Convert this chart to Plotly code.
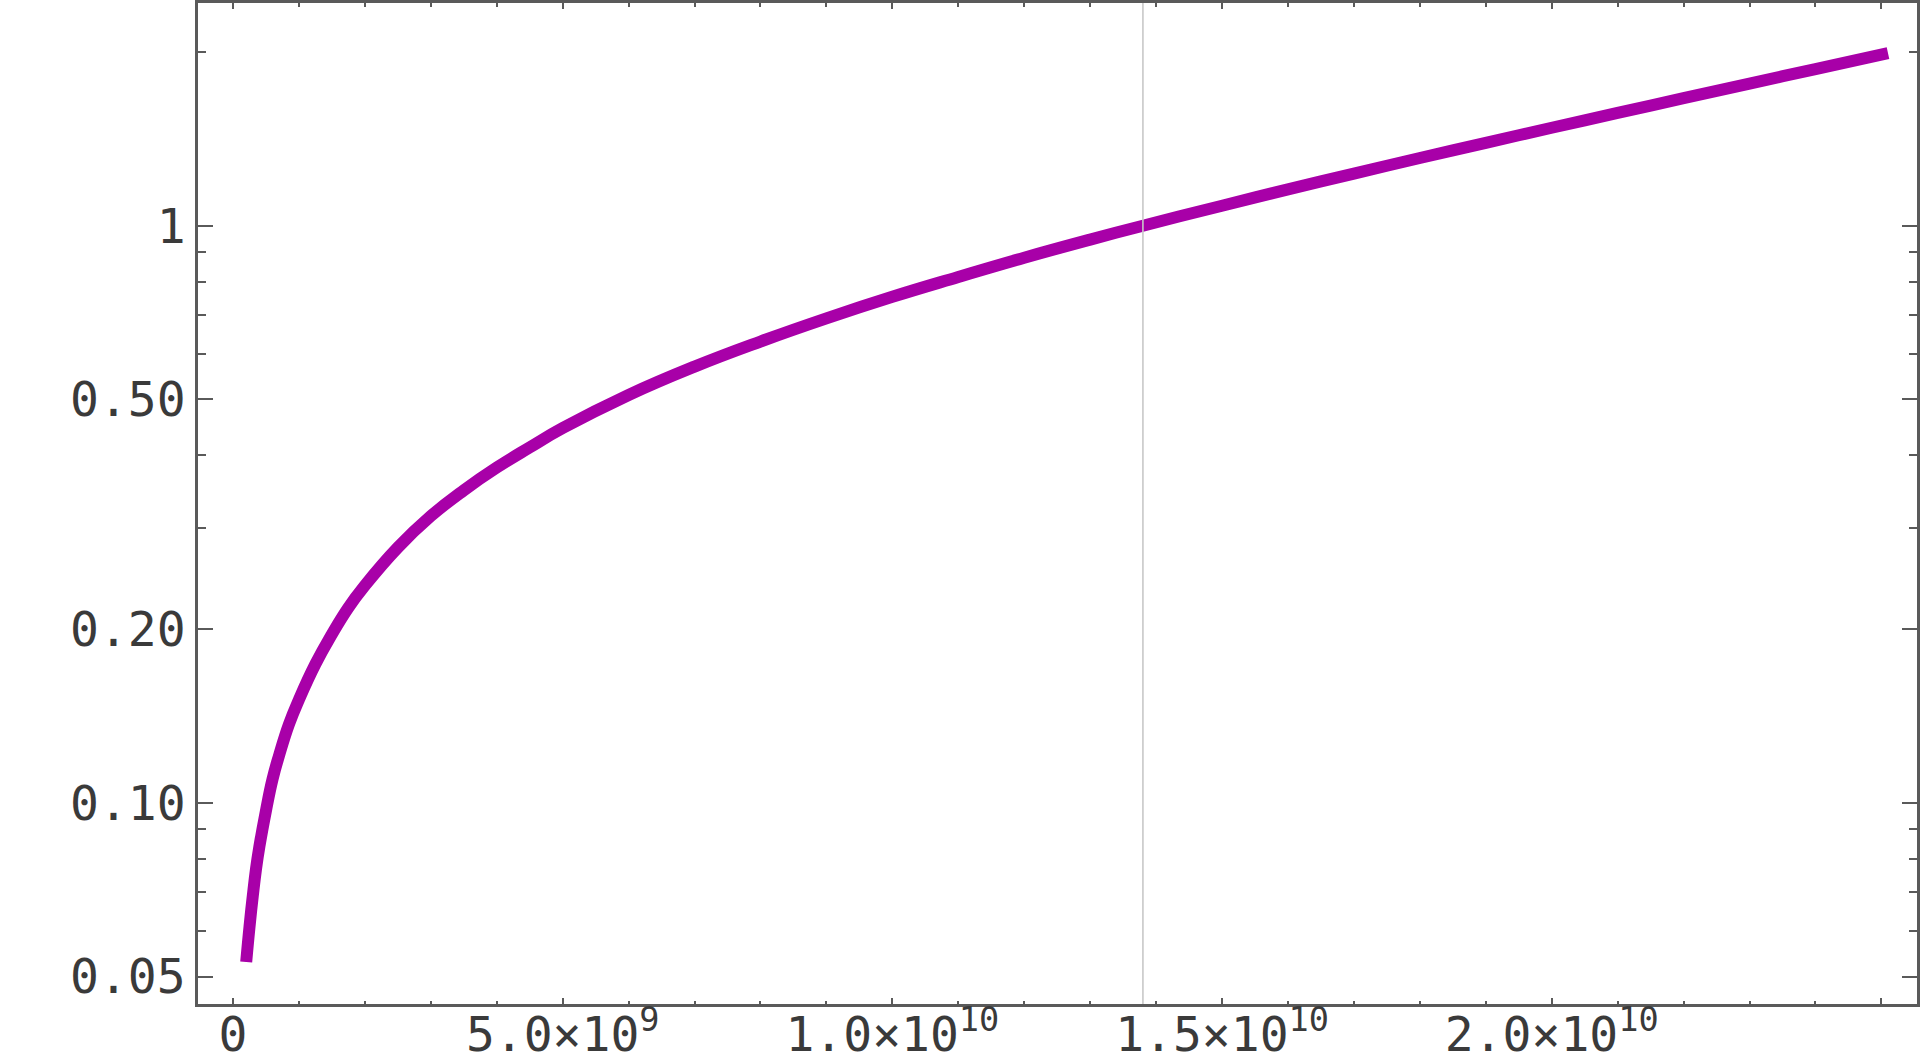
import plotly.graph_objects as go

# Age of the universe (billions of years) and relative scale factor
age_gyr = [0.2, 0.25, 0.3, 0.35, 0.4, 0.5, 0.6, 0.7, 0.85, 1.0, 1.25, 1.5, 1.75, 2.0,
           2.5, 3.0, 3.5, 4.0, 4.5, 5.0, 6.0, 7.0, 8.0, 9.0, 10.0, 11.0, 12.0, 13.0,
           13.8, 15.0, 16.0, 17.0, 18.0, 19.0, 20.0, 21.0, 22.0, 23.0, 24.0, 25.1]
scale_factor = [0.053, 0.061, 0.069, 0.077, 0.084, 0.097, 0.110, 0.121, 0.137, 0.151,
                0.174, 0.196, 0.218, 0.238, 0.277, 0.314, 0.348, 0.381, 0.413, 0.446,
                0.509, 0.570, 0.630, 0.691, 0.753, 0.815, 0.880, 0.946, 1.000, 1.083,
                1.156, 1.231, 1.310, 1.392, 1.478, 1.568, 1.663, 1.763, 1.868, 1.990]
present_age = 1.38e10

x_major_vals = [0, 5e9, 1e10, 1.5e10, 2e10, 2.5e10]
x_major_text = ["0", "5.0×10<sup>9</sup>", "1.0×10<sup>10</sup>", "1.5×10<sup>10</sup>",
                "2.0×10<sup>10</sup>", ""]
x_minor_vals = [i * 1e9 for i in range(0, 26) if i % 5 != 0]
y_major_vals = [0.05, 0.1, 0.2, 0.5, 1]
y_major_text = ["0.05", "0.10", "0.20", "0.50", "1"]
y_minor_vals = [0.06, 0.07, 0.08, 0.09, 0.3, 0.4, 0.6, 0.7, 0.8, 0.9, 2]

x_years = [t * 1e9 for t in age_gyr]

axis_col = "#5a5a5a"
label_col = "#3a3a3a"
x_range = [-0.531e9, 25.54e9]
y_range = [-1.3484, 0.3858]

fig = go.Figure()
fig.add_trace(go.Scatter(x=x_years, y=scale_factor, mode="lines",
                         line=dict(color="#a800a8", width=12, shape="spline", smoothing=1.3),
                         hoverinfo="skip", showlegend=False))
# invisible anchor trace for the mirrored (top/right) tick axes
fig.add_trace(go.Scatter(x=x_years[:1], y=scale_factor[:1], xaxis="x2", yaxis="y2",
                         mode="markers", marker=dict(opacity=0), hoverinfo="skip",
                         showlegend=False))
fig.add_vline(x=present_age, line=dict(color="#c8c8c8", width=1.6))

fig.update_layout(
    width=1920, height=1060,
    margin=dict(l=198, r=3, t=3, b=56, autoexpand=False),
    paper_bgcolor="white", plot_bgcolor="white",
    font=dict(family="DejaVu Sans Mono", size=48, color=label_col),
    showlegend=False,
)

x_common = dict(range=x_range, showgrid=False, zeroline=False, automargin=False,
                ticks="inside", ticklen=6, tickwidth=2, tickcolor=axis_col,
                tickmode="array", tickvals=x_major_vals, ticktext=x_major_text,
                minor=dict(tickmode="array", tickvals=x_minor_vals, ticks="inside",
                           ticklen=3.5, tickwidth=2, tickcolor=axis_col, showgrid=False))
y_common = dict(type="log", range=y_range, showgrid=False, zeroline=False, automargin=False,
                ticks="inside", ticklen=15, tickwidth=2, tickcolor=axis_col,
                tickmode="array", tickvals=y_major_vals, ticktext=y_major_text,
                minor=dict(tickmode="array", tickvals=y_minor_vals, ticks="inside",
                           ticklen=8, tickwidth=2, tickcolor=axis_col, showgrid=False))

fig.update_layout(
    xaxis=dict(**x_common, showline=True, linecolor=axis_col, linewidth=2.5, mirror=True,
               ticklabelstandoff=-13),
    yaxis=dict(**y_common, showline=True, linecolor=axis_col, linewidth=2.5, mirror=True,
               ticklabelstandoff=0),
    xaxis2=dict(**x_common, overlaying="x", side="top", anchor="y2", showline=False,
                showticklabels=False),
    yaxis2=dict(**y_common, overlaying="y", side="right", anchor="x2", showline=False,
                showticklabels=False),
)

fig.write_html("out.html", config={"displayModeBar": False},
               post_script="document.body.style.margin='0';document.body.style.overflow='hidden';")
